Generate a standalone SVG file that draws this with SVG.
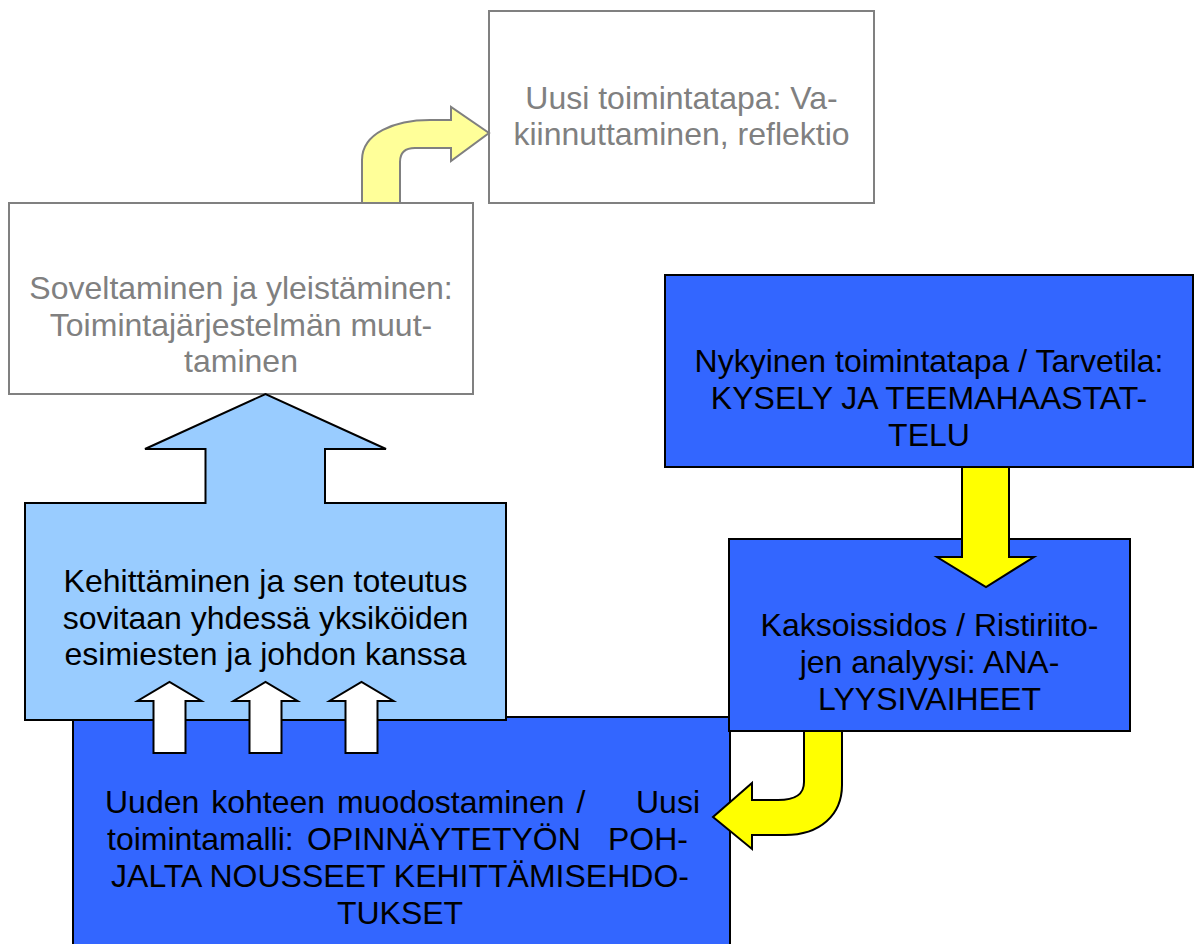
<svg xmlns="http://www.w3.org/2000/svg" width="1198" height="944" viewBox="0 0 1198 944">
<style>
.t{font-family:"Liberation Sans",Arial,sans-serif;font-size:32px;text-anchor:middle;fill:#000}
.g{fill:#808080}
.gbox{fill:#fff;stroke:#808080;stroke-width:2}
.dbox{fill:#3366FF;stroke:#000;stroke-width:2}
.lbox{fill:#99CCFF;stroke:#000;stroke-width:2}
.ya{fill:#FFFF00;stroke:#000;stroke-width:2;stroke-linejoin:miter}
.pya{fill:#FFFF99;stroke:#808080;stroke-width:2}
.wa{fill:#fff;stroke:#000;stroke-width:2}
</style>
<rect width="1198" height="944" fill="#fff"/>
<g id="node-uusi-toimintatapa">
<rect class="gbox" x="489" y="11" width="385" height="192"/>
<text class="t g"><tspan x="681.5" y="109">Uusi toimintatapa: Va-</tspan><tspan x="681.5" y="145">kiinnuttaminen, reflektio</tspan></text>
</g>
<g id="node-soveltaminen">
<rect class="gbox" x="9" y="203" width="464" height="191"/>
<text class="t g"><tspan x="241" y="299">Soveltaminen ja yleistäminen:</tspan><tspan x="241" y="336">Toimintajärjestelmän muut-</tspan><tspan x="241" y="372">taminen</tspan></text>
</g>
<g id="node-uuden-kohteen">
<rect class="dbox" x="73" y="717" width="657" height="240"/>
</g>
<g id="node-kehittaminen">
<path class="lbox" d="M25,503 H205.5 V449 H145 L265.5,394 L386,449 H325 V503 H506 V720 H25 Z"/>
<text class="t"><tspan x="265.5" y="592">Kehittäminen ja sen toteutus</tspan><tspan x="265.5" y="628.5">sovitaan yhdessä yksiköiden</tspan><tspan x="265.5" y="665">esimiesten ja johdon kanssa</tspan></text>
</g>
<g id="node-nykyinen">
<rect class="dbox" x="665" y="275" width="528" height="192"/>
<text class="t"><tspan x="929" y="371.5">Nykyinen toimintatapa / Tarvetila:</tspan><tspan x="929" y="408.5">KYSELY JA TEEMAHAASTAT-</tspan><tspan x="929" y="445.5">TELU</tspan></text>
</g>
<g id="node-kaksoissidos">
<rect class="dbox" x="729" y="539" width="401" height="192"/>
<text class="t"><tspan x="929.5" y="636">Kaksoissidos / Ristiriito-</tspan><tspan x="929.5" y="673">jen analyysi: ANA-</tspan><tspan x="929.5" y="710">LYYSIVAIHEET</tspan></text>
</g>
<g id="connectors">
<path class="pya" d="M362,203 V160 C362,133 395,120 430,120 H451 V107 L489,133 L451,161 V148 H415 C405,148 400,153 400,162 V203 Z"/>
<path class="ya" d="M962,467 H1009 V557 H1034 L986,587 L937,557 H962 Z"/>
<path class="ya" d="M804,731 H842 V785 C842,815 820,835 785,835 H752 V849 L713,817 L752,783 V800 H778 C795,800 804,795 804,782 Z"/>
<path class="wa" d="M153.5,753 V701 H137.5 L169.5,682 L201.5,701 H185.5 V753 Z"/>
<path class="wa" d="M249.5,753 V701 H233.5 L265.5,682 L297.5,701 H281.5 V753 Z"/>
<path class="wa" d="M345.5,753 V701 H329.5 L361.5,682 L393.5,701 H377.5 V753 Z"/>
</g>
<g id="node-uuden-kohteen-text">
<text class="t"><tspan x="105" y="813" text-anchor="start" word-spacing="3">Uuden kohteen muodostaminen /</tspan><tspan x="700" y="813" text-anchor="end">Uusi</tspan><tspan x="107" y="850" text-anchor="start">toimintamalli:</tspan><tspan x="307" y="850" text-anchor="start">OPINNÄYTETYÖN</tspan><tspan x="688" y="850" text-anchor="end">POH-</tspan><tspan x="400" y="887">JALTA NOUSSEET KEHITTÄMISEHDO-</tspan><tspan x="400" y="924">TUKSET</tspan></text>
</g>
</svg>
